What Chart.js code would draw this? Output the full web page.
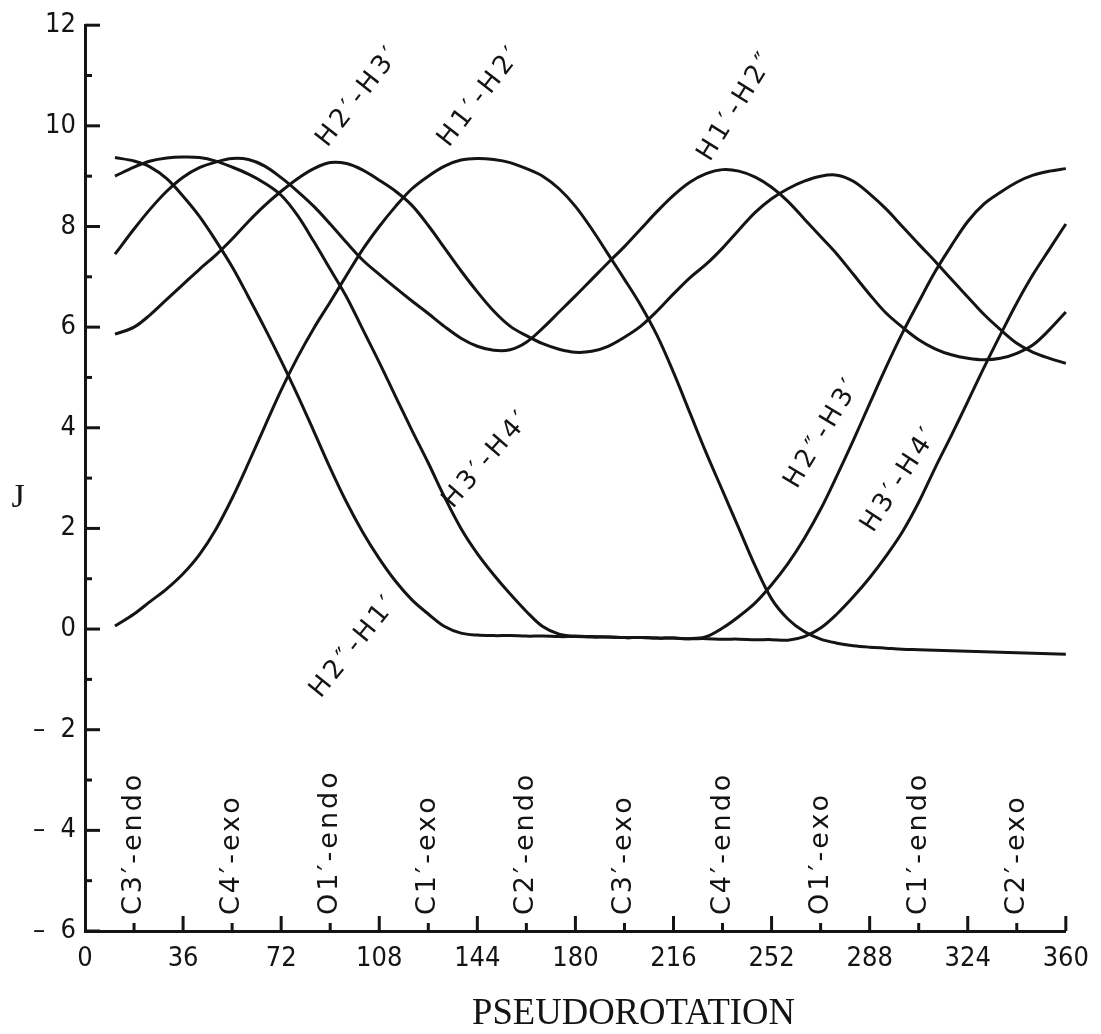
<!DOCTYPE html>
<html>
<head>
<meta charset="utf-8">
<script src="https://cdn.jsdelivr.net/npm/chart.js@4.4.1/dist/chart.umd.min.js"></script>
<style>
html,body{margin:0;padding:0;background:#fff;}
#wrap{width:1101px;height:1034px;position:relative;}
</style>
</head>
<body>
<div id="wrap"><canvas id="c" width="1101" height="1034"></canvas></div>
<script>
// ---- data (pseudorotation phase P in degrees, coupling constants J in Hz) ----
const P = [11,18,24,30,36,42,48,54,60,66,72,78,84,90,96,102,108,114,120,126,132,138,144,150,156,162,168,174,180,186,192,198,204,210,216,222,228,234,240,246,252,258,264,270,276,282,288,294,300,306,312,318,324,330,336,342,348,354,360];

const J_H1_H2 = [0.06,0.3,0.55,0.8,1.1,1.48,1.98,2.6,3.3,4.03,4.75,5.4,5.98,6.5,7.03,7.55,8.0,8.4,8.75,9.0,9.2,9.32,9.35,9.33,9.27,9.15,9.0,8.75,8.4,7.95,7.45,6.95,6.43,5.83,5.1,4.3,3.5,2.75,2.0,1.25,0.6,0.2,-0.05,-0.2,-0.28,-0.33,-0.36,-0.38,-0.4,-0.41,-0.42,-0.43,-0.44,-0.45,-0.46,-0.47,-0.48,-0.49,-0.5];

const J_H1_H2b = [7.45,7.95,8.35,8.7,8.98,9.17,9.28,9.35,9.33,9.2,8.97,8.7,8.4,8.05,7.68,7.33,7.05,6.78,6.52,6.27,6.01,5.78,5.62,5.54,5.55,5.7,5.98,6.3,6.62,6.95,7.28,7.6,7.95,8.3,8.62,8.88,9.05,9.13,9.1,8.98,8.78,8.5,8.15,7.8,7.45,7.05,6.65,6.28,6.0,5.75,5.57,5.45,5.38,5.35,5.38,5.48,5.65,5.95,6.3];

const J_H2_H3 = [5.86,6.0,6.25,6.55,6.85,7.15,7.43,7.75,8.1,8.42,8.7,8.95,9.15,9.27,9.25,9.12,8.92,8.7,8.42,8.02,7.57,7.12,6.7,6.32,6.02,5.83,5.67,5.56,5.5,5.52,5.62,5.8,6.02,6.32,6.66,6.98,7.25,7.57,7.93,8.28,8.55,8.75,8.9,9.0,9.02,8.9,8.65,8.35,8.0,7.65,7.31,6.95,6.6,6.25,5.95,5.68,5.5,5.38,5.28];

const J_H2b_H3 = [9.37,9.3,9.18,8.95,8.6,8.2,7.72,7.2,6.6,5.98,5.33,4.65,3.93,3.2,2.52,1.92,1.4,0.95,0.58,0.3,0.05,-0.08,-0.12,-0.13,-0.13,-0.14,-0.14,-0.15,-0.15,-0.16,-0.16,-0.17,-0.17,-0.18,-0.18,-0.19,-0.15,0.02,0.25,0.52,0.88,1.3,1.8,2.38,3.05,3.75,4.48,5.2,5.88,6.5,7.1,7.62,8.1,8.45,8.68,8.88,9.02,9.1,9.15];

const J_H3_H4 = [9.0,9.18,9.3,9.36,9.38,9.37,9.3,9.18,9.04,8.86,8.62,8.22,7.7,7.15,6.6,5.95,5.3,4.62,3.95,3.3,2.62,2.0,1.5,1.08,0.7,0.35,0.05,-0.1,-0.14,-0.15,-0.16,-0.17,-0.17,-0.18,-0.18,-0.19,-0.19,-0.2,-0.2,-0.21,-0.21,-0.22,-0.15,0.02,0.3,0.64,1.02,1.45,1.93,2.52,3.2,3.85,4.52,5.2,5.85,6.48,7.05,7.55,8.05];

// tick labels
const xTickValues = [0,36,72,108,144,180,216,252,288,324,360];
const yTickValues = [-6,-4,-2,0,2,4,6,8,10,12];

// conformation names along the P axis
const conformerNames = ['C3′-endo','C4′-exo','O1′-endo','C1′-exo','C2′-endo','C3′-exo','C4′-endo','O1′-exo','C1′-endo','C2′-exo'];
const conformerP = [18,54,90,126,162,198,234,270,306,342];

// curve names written on the plot
const curveNames = ['H2′-H3′','H1′-H2′','H1′-H2″','H3′-H4′','H2″-H1′','H2″-H3′','H3′-H4′'];
// anchor (P, J) and text angle for each curve name
const curveNameAnchors = [[88.9,9.56,52],[133.5,9.56,52],[229.3,9.27,58],[135,2.38,49],[86.4,-1.39,51],[261.2,2.77,59],[289.2,1.9,57]];

const xTitle = 'PSEUDOROTATION';
const yTitle = 'J';

// ---- rendering ----
const INK = '#141414';
const FONT_TICK = '"Liberation Sans Narrow","DejaVu Sans Condensed","DejaVu Sans",sans-serif';
const FONT_LET = '"DejaVu Sans",sans-serif';
const FONT_SERIF = '"Liberation Serif","DejaVu Serif",serif';

function series(arr){ return P.map((p,i)=>({x:p,y:arr[i]})); }
function ds(label, arr){
  return {label, data: series(arr), borderColor: INK, borderWidth: 3, pointRadius: 0,
          fill:false, tension: 0.35, clip:false};
}

const deco = {
  id:'deco',
  afterDraw(chart){
    const {ctx, chartArea:a, scales:{x,y}} = chart;
    ctx.save();
    ctx.strokeStyle = INK; ctx.lineWidth = 3; ctx.lineCap = 'butt';
    // inward ticks on J axis
    for (let v=-6; v<=12; v++){
      const py = y.getPixelForValue(v);
      const len = (v%2===0) ? 15 : 7;
      ctx.beginPath(); ctx.moveTo(a.left, py); ctx.lineTo(a.left+len, py); ctx.stroke();
    }
    // inward ticks on P axis
    for (let v=18; v<=360; v+=18){
      const px = x.getPixelForValue(v);
      const len = (v%36===0) ? 15 : 8;
      ctx.beginPath(); ctx.moveTo(px, a.bottom); ctx.lineTo(px, a.bottom-len); ctx.stroke();
    }
    ctx.fillStyle = INK;
    // conformer names (vertical)
    ctx.font = '27px ' + FONT_LET;
    ctx.letterSpacing = '3px';
    ctx.textAlign = 'left'; ctx.textBaseline = 'middle';
    conformerNames.forEach((t,i)=>{
      ctx.save();
      ctx.translate(x.getPixelForValue(conformerP[i]), a.bottom - 16);
      ctx.rotate(-Math.PI/2);
      ctx.fillText(t, 0, 0);
      ctx.restore();
    });
    // curve names (slanted)
    ctx.font = '26px ' + FONT_LET;
    ctx.letterSpacing = '4px';
    ctx.textBaseline = 'alphabetic';
    curveNames.forEach((t,i)=>{
      const [p,j,ang] = curveNameAnchors[i];
      ctx.save();
      ctx.translate(x.getPixelForValue(p), y.getPixelForValue(j));
      ctx.rotate(-ang*Math.PI/180);
      ctx.fillText(t, 0, 0);
      ctx.restore();
    });
    ctx.letterSpacing = '0px';
    // axis titles
    ctx.font = '34px ' + FONT_SERIF;
    ctx.textAlign = 'center'; ctx.textBaseline = 'middle';
    ctx.fillText(yTitle, 18, y.getPixelForValue(2.6));
    ctx.font = '38px ' + FONT_SERIF;
    ctx.textAlign = 'left'; ctx.textBaseline = 'alphabetic';
    const w = ctx.measureText(xTitle).width;
    ctx.save();
    ctx.translate(a.left + 387, a.bottom + 93);
    ctx.scale(323 / w, 1);
    ctx.fillText(xTitle, 0, 0);
    ctx.restore();
    ctx.restore();
  }
};

new Chart(document.getElementById('c'), {
  type: 'line',
  data: { datasets: [
    ds("H1'-H2'", J_H1_H2),
    ds("H1'-H2''", J_H1_H2b),
    ds("H2'-H3'", J_H2_H3),
    ds("H2''-H3'", J_H2b_H3),
    ds("H3'-H4'", J_H3_H4)
  ]},
  options: {
    responsive: false, animation: false, devicePixelRatio: 1,
    layout: { padding: { top: 22, right: 24, left: 0, bottom: 0 } },
    plugins: { legend: { display: false }, tooltip: { enabled: false }, title: { display: false } },
    scales: {
      x: {
        type: 'linear', min: 0, max: 360,
        afterBuildTicks: s => { s.ticks = xTickValues.map(v => ({ value: v })); },
        afterFit: s => { s.height = 103; },
        grid: { display: false, drawTicks: false },
        border: { display: true, color: INK, width: 3 },
        ticks: { color: INK, padding: 12, maxRotation: 0, autoSkip: false,
                 font: { family: FONT_TICK, size: 27 } }
      },
      y: {
        type: 'linear', min: -6, max: 12,
        afterBuildTicks: s => { s.ticks = yTickValues.map(v => ({ value: v })); },
        afterFit: s => { s.width = 85; },
        grid: { display: false, drawTicks: false },
        border: { display: true, color: INK, width: 3 },
        ticks: { color: INK, padding: 9, autoSkip: false,
                 font: { family: FONT_TICK, size: 27 },
                 callback: v => v < 0 ? '–  ' + (-v) : String(v) }
      }
    }
  },
  plugins: [deco]
});
</script>
</body>
</html>
